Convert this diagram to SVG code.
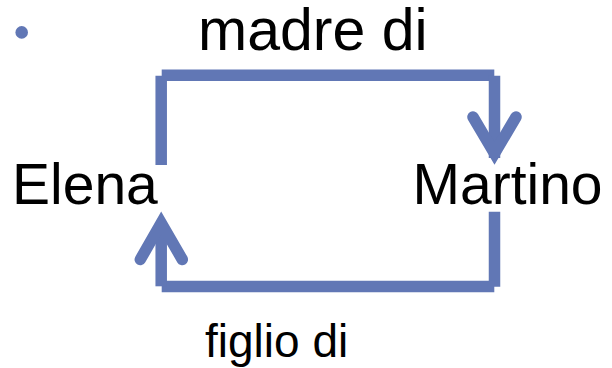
<svg xmlns="http://www.w3.org/2000/svg" width="612" height="368" viewBox="0 0 612 368">
<style>
.t{font-family:"Liberation Sans",Arial,sans-serif;fill:#000}
.c{stroke:#6177B5;stroke-width:11.5;fill:none;stroke-linecap:butt}
.h{stroke:#6177B5;stroke-width:11.5;fill:none;stroke-linecap:round;stroke-linejoin:miter;stroke-miterlimit:10}
</style>
<rect width="612" height="368" fill="#fff"/>
<circle cx="21.7" cy="32.4" r="6.3" fill="#6177B5"/>
<g id="label-madre"><text class="t" x="198" y="50" font-size="59">madre di</text></g>
<g id="label-figlio"><text class="t" x="205" y="357" font-size="46">figlio di</text></g>
<g id="node-elena"><text class="t" x="12" y="203.5" font-size="57">Elena</text></g>
<g id="node-martino"><text class="t" x="412.5" y="203.5" font-size="57">Martino</text></g>
<g id="connectors">
<line class="c" x1="161.2" y1="165" x2="161.2" y2="75.7"/>
<line class="c" x1="161.7" y1="75.2" x2="494.3" y2="75.2"/>
<line class="c" x1="494.5" y1="75.7" x2="494.5" y2="158"/>
<polyline class="h" points="473,117 494.5,153.5 516,117"/>
<line class="c" x1="494.5" y1="211.7" x2="494.5" y2="286.7"/>
<line class="c" x1="494.3" y1="286.5" x2="161.7" y2="286.5"/>
<line class="c" x1="161.2" y1="286.3" x2="161.2" y2="228"/>
<polyline class="h" points="140.3,259.5 161.2,223 182.3,259.5"/>
</g>
</svg>
